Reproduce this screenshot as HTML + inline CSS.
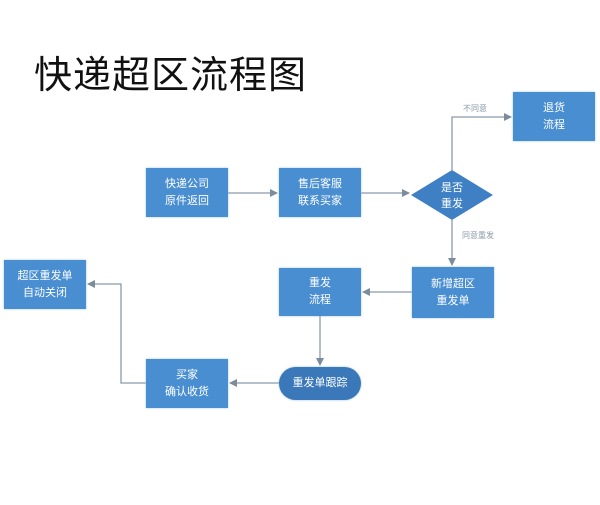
<!DOCTYPE html>
<html><head><meta charset="utf-8"><style>
body{margin:0;background:#fff;width:600px;height:505px;overflow:hidden;position:relative;font-family:"Liberation Sans","Noto Sans CJK SC",sans-serif}
.t{position:absolute;left:34px;top:44px;font-size:38px;color:#111;font-family:"Liberation Sans","Noto Sans CJK SC",sans-serif;letter-spacing:1px}
.b{position:absolute;background:#4a8ed2;color:#fff;font-size:11px;line-height:17px;text-align:center;display:flex;align-items:center;justify-content:center;box-shadow:0 0 2px #9cc3ea}
</style></head><body>
<div class="t">快递超区流程图</div>
<svg width="600" height="505" style="position:absolute;left:0;top:0">
<defs><marker id="a" markerWidth="8" markerHeight="8" refX="7" refY="4" orient="auto" markerUnits="userSpaceOnUse"><path d="M0,0L8,4L0,8z" fill="#7d8c9b"/></marker></defs>
<g stroke="#8a9aaa" stroke-width="1.3" fill="none">
<line x1="228" y1="193" x2="277" y2="193" marker-end="url(#a)"/>
<line x1="361" y1="193" x2="409" y2="193" marker-end="url(#a)"/>
<polyline points="452,170 452,117 511,117" marker-end="url(#a)"/>
<line x1="452" y1="220" x2="452" y2="265" marker-end="url(#a)"/>
<line x1="412" y1="292" x2="363" y2="292" marker-end="url(#a)"/>
<line x1="320" y1="316" x2="320" y2="365" marker-end="url(#a)"/>
<line x1="279" y1="383" x2="230" y2="383" marker-end="url(#a)"/>
<polyline points="146,383 121,383 121,284 88,284" marker-end="url(#a)"/>
</g>
<polygon points="452,170 493,195 452,220 411,195" fill="#3f80c4"/>
<text x="452" y="191" fill="#fff" font-size="11" text-anchor="middle">是否</text>
<text x="452" y="207" fill="#fff" font-size="11" text-anchor="middle">重发</text>
<text x="475" y="111" fill="#8a9aaa" font-size="8" text-anchor="middle">不同意</text>
<text x="478" y="238" fill="#8a9aaa" font-size="8" text-anchor="middle">同意重发</text>
</svg>
<div class="b" style="left:146px;top:168px;width:82px;height:49px">快递公司<br>原件返回</div>
<div class="b" style="left:279px;top:168px;width:82px;height:49px">售后客服<br>联系买家</div>
<div class="b" style="left:513px;top:92px;width:82px;height:49px">退货<br>流程</div>
<div class="b" style="left:412px;top:267px;width:82px;height:51px">新增超区<br>重发单</div>
<div class="b" style="left:279px;top:268px;width:82px;height:48px">重发<br>流程</div>
<div class="b" style="left:279px;top:367px;width:82px;height:33px;border-radius:17px;background:#3b78ba">重发单跟踪</div>
<div class="b" style="left:146px;top:359px;width:82px;height:49px">买家<br>确认收货</div>
<div class="b" style="left:4px;top:260px;width:82px;height:49px">超区重发单<br>自动关闭</div>
</body></html>
